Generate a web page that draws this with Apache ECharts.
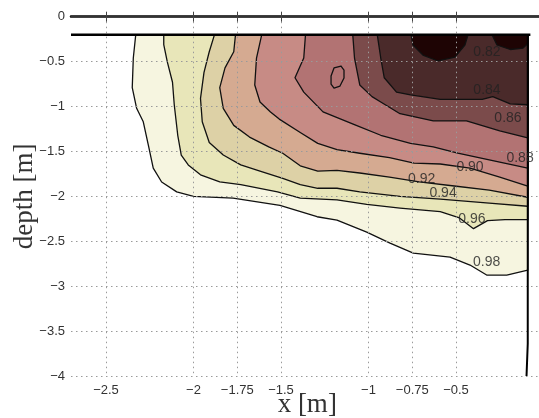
<!DOCTYPE html>
<html>
<head>
<meta charset="utf-8">
<script src="https://cdn.jsdelivr.net/npm/echarts@6/dist/echarts.min.js"></script>
<style>
  html, body { margin: 0; padding: 0; background: #fff; }
  #chart { width: 539px; height: 418px; }
</style>
</head>
<body>
<div id="chart"></div>
<script>
// tick positions
const xTicks = [-2.5, -2, -1.75, -1.5, -1, -0.75, -0.5];

// measured section: water surface and right wall
const yTop = -0.2;
const xWall = -0.09;
const wall = [[xWall, -0.2], [xWall, -3.64], [-0.097, -3.64], [-0.097, -4]];

// contour lines [x, depth], each runs from the surface to the wall
const c098 = [[-2.33, -0.2], [-2.344, -0.46], [-2.35, -0.79], [-2.325, -1.02], [-2.287, -1.17], [-2.258, -1.43],
  [-2.23, -1.685], [-2.182, -1.84], [-2.096, -1.95], [-2.0, -2.0], [-1.774, -2.02], [-1.506, -2.1],
  [-1.294, -2.227], [-1.18, -2.264], [-1.01, -2.398], [-0.877, -2.52], [-0.744, -2.631], [-0.534, -2.676],
  [-0.42, -2.765], [-0.325, -2.876], [-0.21, -2.876], [-0.09, -2.821]];
const c096 = [[-2.17, -0.2], [-2.17, -0.31], [-2.15, -0.5], [-2.12, -0.73], [-2.11, -0.98], [-2.09, -1.32],
  [-2.07, -1.54], [-2.03, -1.65], [-1.96, -1.76], [-1.85, -1.84], [-1.73, -1.87], [-1.52, -1.95],
  [-1.39, -2.02], [-1.18, -2.04], [-1.01, -2.09], [-0.82, -2.13], [-0.59, -2.17], [-0.48, -2.24],
  [-0.4, -2.36], [-0.32, -2.27], [-0.22, -2.26], [-0.09, -2.26]];
const c094 = [[-1.88, -0.2], [-1.91, -0.39], [-1.94, -0.62], [-1.96, -0.91], [-1.95, -1.17], [-1.91, -1.4],
  [-1.83, -1.54], [-1.73, -1.65], [-1.62, -1.72], [-1.49, -1.8], [-1.39, -1.87], [-1.29, -1.91],
  [-1.18, -1.91], [-1.05, -1.95], [-0.82, -2.0], [-0.59, -2.03], [-0.31, -2.075], [-0.09, -2.11]];
const c092 = [[-1.76, -0.2], [-1.77, -0.39], [-1.82, -0.57], [-1.85, -0.79], [-1.83, -1.02], [-1.77, -1.21],
  [-1.68, -1.34], [-1.57, -1.45], [-1.49, -1.52], [-1.39, -1.66], [-1.29, -1.72], [-1.18, -1.71],
  [-1.05, -1.74], [-0.88, -1.785], [-0.71, -1.84], [-0.51, -1.885], [-0.31, -1.93], [-0.09, -2.01]];
const c090 = [[-1.61, -0.2], [-1.64, -0.46], [-1.65, -0.76], [-1.62, -0.95], [-1.56, -1.06], [-1.51, -1.14],
  [-1.39, -1.29], [-1.29, -1.41], [-1.18, -1.48], [-1.05, -1.52], [-0.88, -1.57], [-0.74, -1.63],
  [-0.59, -1.64], [-0.42, -1.685], [-0.25, -1.785], [-0.09, -1.885]];
const c088 = [[-1.36, -0.2], [-1.37, -0.46], [-1.42, -0.68], [-1.37, -0.84], [-1.26, -1.06], [-1.07, -1.21],
  [-0.93, -1.32], [-0.76, -1.41], [-0.63, -1.45], [-0.49, -1.52], [-0.25, -1.62], [-0.09, -1.685]];
const c086 = [[-1.09, -0.2], [-1.08, -0.46], [-1.05, -0.76], [-0.98, -0.89], [-0.93, -0.95], [-0.82, -1.08],
  [-0.63, -1.16], [-0.44, -1.16], [-0.25, -1.27], [-0.09, -1.35]];
const c084 = [[-0.95, -0.2], [-0.93, -0.46], [-0.91, -0.68], [-0.84, -0.84], [-0.76, -0.87], [-0.59, -0.92],
  [-0.35, -0.92], [-0.29, -0.89], [-0.19, -0.97], [-0.09, -0.98]];
const c082a = [[-0.757, -0.2], [-0.746, -0.315], [-0.689, -0.427], [-0.603, -0.493], [-0.506, -0.449],
  [-0.449, -0.315], [-0.431, -0.2]];
const c082b = [[-0.294, -0.2], [-0.266, -0.315], [-0.19, -0.365], [-0.117, -0.35], [-0.09, -0.3]];
const island = [[-1.157, -0.549], [-1.14, -0.594], [-1.14, -0.683], [-1.163, -0.772], [-1.197, -0.794],
  [-1.214, -0.75], [-1.214, -0.66], [-1.197, -0.571]];

const shapes = [c098, c096, c094, c092, c090, c088, c086, c084, c082a, c082b, island];
const fills = ['#f6f5e0', '#e8e6b9', '#ddd1a6', '#d5aa91', '#c78b85', '#b27373',
  '#7b4b4b', '#4a2a2a', '#1e0404', '#1e0404', '#b27373'];

// contour labels
const labelNames = ['0.82', '0.84', '0.86', '0.88', '0.90', '0.92', '0.94', '0.96', '0.98'];
const labelX = [-0.323, -0.323, -0.203, -0.134, -0.42, -0.696, -0.574, -0.409, -0.325];
const labelY = [-0.393, -0.816, -1.128, -1.573, -1.674, -1.807, -1.963, -2.253, -2.732];

const chart = echarts.init(document.getElementById('chart'));

const fmt = v => (v === 0 ? '0' : String(v).replace('-', '\u2212'));
const gridDots = { color: '#9a9a9a', type: [1.5, 3.5], width: 1 };

const option = {
  animation: false,
  grid: { left: 71, top: 16.7, width: 472.5, height: 359.3, containLabel: false, outerBoundsMode: 'none' },
  xAxis: [
    {
      type: 'value', min: -2.7, max: 0, z: 5,
      name: 'x [m]', nameLocation: 'middle', nameGap: 15, nameMoveOverlap: false,
      nameTextStyle: { fontFamily: 'Liberation Serif', fontSize: 27, color: '#333', verticalAlign: 'top' },
      axisLine: { lineStyle: { color: '#000', width: 2.5 } },
      axisTick: { inside: true, length: 5, customValues: xTicks, lineStyle: { color: '#444' } },
      axisLabel: { customValues: xTicks, formatter: fmt, margin: 8, fontFamily: 'Liberation Sans', fontSize: 13, color: '#333' },
      splitLine: { show: true, lineStyle: gridDots }
    },
    {
      type: 'value', min: -2.7, max: 0, position: 'top', z: 5,
      axisLine: { lineStyle: { color: '#444', width: 1.5 } },
      axisTick: { inside: true, length: 5, customValues: xTicks, lineStyle: { color: '#444' } },
      axisLabel: { show: false },
      splitLine: { show: false }
    }
  ],
  yAxis: {
    type: 'value', min: -4, max: 0, interval: 0.5, z: 5,
    name: 'depth [m]', nameLocation: 'middle', nameGap: 33, nameMoveOverlap: false,
    nameTextStyle: { fontFamily: 'Liberation Serif', fontSize: 27, color: '#333' },
    axisLine: { lineStyle: { color: '#000', width: 2.5 } },
    axisTick: { inside: true, length: 5, lineStyle: { color: '#444' } },
    axisLabel: { formatter: fmt, margin: 6, fontFamily: 'Liberation Sans', fontSize: 13, color: '#333' },
    splitLine: { show: true, lineStyle: gridDots }
  },
  series: [
    {
      type: 'custom',
      clip: true,
      data: shapes.map((s, i) => [s[0][0], s[0][1], i]),
      renderItem: (params, api) => {
        const s = shapes[api.value(2)];
        const pts = s.slice();
        const last = pts[pts.length - 1];
        if (Math.abs(last[0] - xWall) < 1e-6) pts.push([xWall, yTop]);
        return {
          type: 'polygon',
          shape: { points: pts.map(p => api.coord(p)) },
          style: { fill: fills[api.value(2)], stroke: '#111', lineWidth: 1.3, lineJoin: 'round' }
        };
      }
    },
    {
      type: 'line', z: 6, symbol: 'none',
      data: [[-2.7, yTop], [-0.075, yTop]],
      lineStyle: { color: '#000', width: 2.5 }
    },
    {
      type: 'line', z: 6, symbol: 'none',
      data: wall,
      lineStyle: { color: '#000', width: 2 }
    },
    {
      type: 'scatter', z: 7, symbolSize: 0,
      data: labelNames.map((t, i) => [labelX[i], labelY[i], t]),
      label: {
        show: true, position: 'inside', formatter: p => p.value[2],
        fontFamily: 'Liberation Sans', fontSize: 14, color: '#222'
      }
    }
  ]
};

chart.setOption(option);
</script>
</body>
</html>
